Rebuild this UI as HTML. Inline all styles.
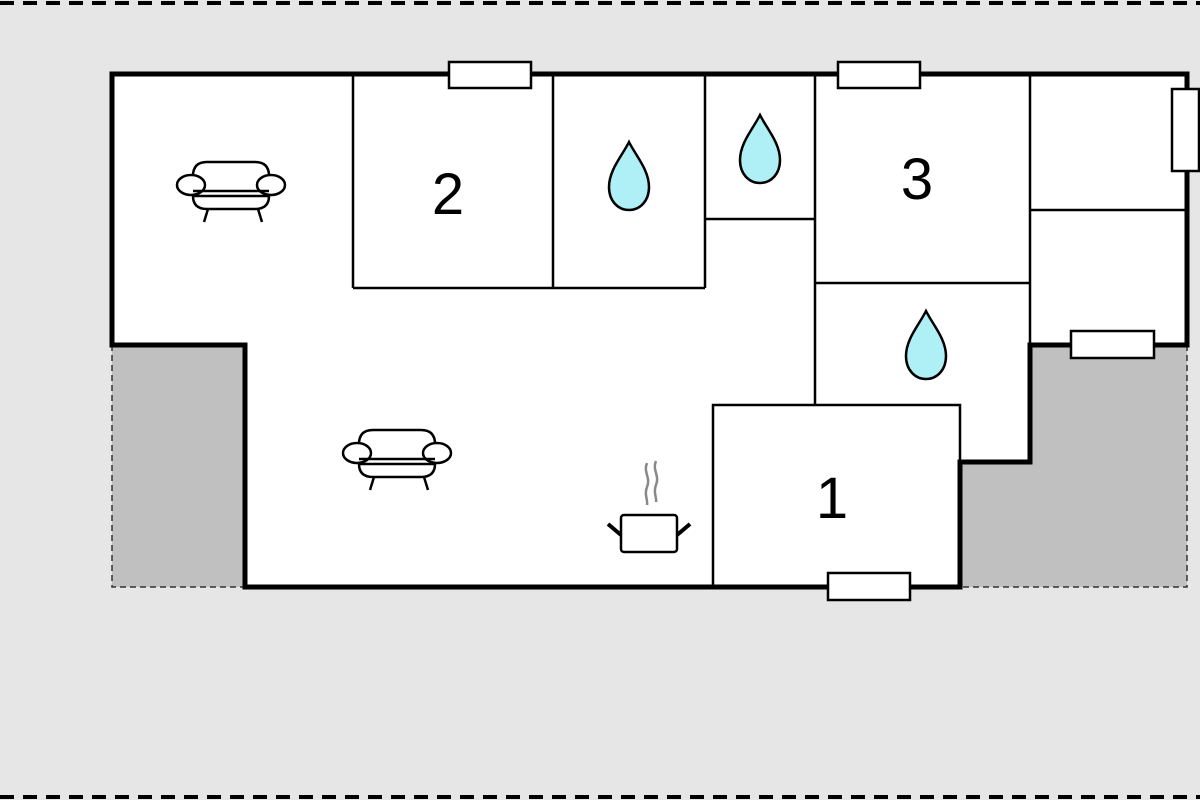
<!DOCTYPE html>
<html><head><style>html,body{margin:0;padding:0;background:#e6e6e6}svg{display:block}</style></head>
<body>
<svg width="1200" height="800" viewBox="0 0 1200 800" xmlns="http://www.w3.org/2000/svg">
<rect width="1200" height="800" fill="#e6e6e6"/>
<line x1="0" y1="3" x2="1200" y2="3" stroke="#000" stroke-width="4" stroke-dasharray="14,9"/>
<line x1="0" y1="797" x2="1200" y2="797" stroke="#000" stroke-width="4" stroke-dasharray="14,9"/>
<!-- grey terraces -->
<rect x="112" y="345" width="133" height="242" fill="#c0c0c0"/>
<polygon points="1030,345 1187,345 1187,587 960,587 960,462 1030,462" fill="#c0c0c0"/>
<polyline points="112,345 112,587 245,587" fill="none" stroke="#333" stroke-width="1.5" stroke-dasharray="6,4"/>
<polyline points="1187,345 1187,587 960,587" fill="none" stroke="#333" stroke-width="1.5" stroke-dasharray="6,4"/>
<!-- floor -->
<polygon points="112,74 1187,74 1187,345 1030,345 1030,462 960,462 960,587 245,587 245,345 112,345" fill="#fff"/>
<!-- interior walls -->
<g stroke="#000" stroke-width="2.5" fill="none">
<line x1="353" y1="74" x2="353" y2="288"/>
<line x1="353" y1="288" x2="705" y2="288"/>
<line x1="553" y1="74" x2="553" y2="288"/>
<line x1="705" y1="74" x2="705" y2="288"/>
<line x1="705" y1="219" x2="815" y2="219"/>
<line x1="815" y1="74" x2="815" y2="405"/>
<line x1="815" y1="283" x2="1030" y2="283"/>
<line x1="1030" y1="74" x2="1030" y2="462"/>
<line x1="1030" y1="210" x2="1187" y2="210"/>
<polyline points="713,587 713,405 960,405 960,462"/>
</g>
<polygon points="112,74 1187,74 1187,345 1030,345 1030,462 960,462 960,587 245,587 245,345 112,345" fill="none" stroke="#000" stroke-width="5"/>
<!-- windows -->
<g fill="#fff" stroke="#000" stroke-width="2.5">
<rect x="449" y="62" width="82" height="26"/>
<rect x="838" y="62" width="82" height="26"/>
<rect x="1172" y="89" width="27" height="82"/>
<rect x="1071" y="331" width="83" height="27"/>
<rect x="828" y="573" width="82" height="27"/>
</g>
<!-- numbers -->
<g font-family="Liberation Sans, sans-serif" font-size="58" text-anchor="middle" fill="#000">
<text x="448" y="214">2</text>
<text x="917" y="199">3</text>
<text x="832" y="518">1</text>
</g>
<!-- drops -->
<g fill="#aef0f6" stroke="#000" stroke-width="2.5">
<path d="M629,142 C622,156 609,170 609,187 C609,201 618,210 629,210 C640,210 649,201 649,187 C649,170 636,156 629,142 Z"/>
<path d="M760,115 C753,129 740,143 740,160 C740,174 749,183 760,183 C771,183 780,174 780,160 C780,143 767,129 760,115 Z"/>
<path d="M926,311 C919,325 906,339 906,356 C906,370 915,379 926,379 C937,379 946,370 946,356 C946,339 933,325 926,311 Z"/>
</g>
<!-- sofas -->
<g id="sofa" fill="#fff" stroke="#000" stroke-width="2.5">
<path d="M193,195 L193,176 Q193,162 207,162 L255,162 Q269,162 269,176 L269,195"/>
<path d="M193,196 Q193,209 207,209 L255,209 Q269,209 269,196 Z"/>
<ellipse cx="191" cy="185" rx="14" ry="10"/>
<ellipse cx="271" cy="185" rx="14" ry="10"/>
<line x1="193" y1="191" x2="269" y2="191"/>
<line x1="208" y1="209" x2="204" y2="222"/>
<line x1="258" y1="209" x2="262" y2="222"/>
</g>
<use href="#sofa" x="166" y="268"/>
<!-- pot -->
<g stroke="#888" stroke-width="2.5" fill="none">
<path d="M647,463 C643,472 651,478 647,487 C644,494 648,500 647,505"/>
<path d="M656,461 C652,470 660,476 656,485 C653,492 657,498 656,502"/>
</g>
<rect x="621" y="515" width="56" height="37" rx="3" fill="#fff" stroke="#000" stroke-width="2.5"/>
<line x1="608" y1="524" x2="621" y2="535" stroke="#000" stroke-width="4"/>
<line x1="690" y1="524" x2="677" y2="535" stroke="#000" stroke-width="4"/>
</svg>
</body></html>
